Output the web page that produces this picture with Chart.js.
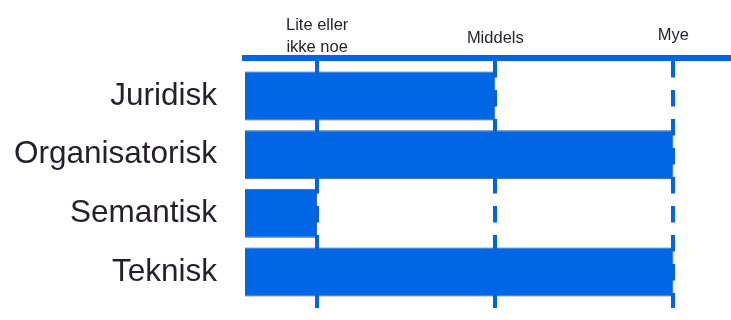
<!DOCTYPE html>
<html>
<head>
<meta charset="utf-8">
<script src="https://cdn.jsdelivr.net/npm/chart.js@4/dist/chart.umd.min.js"></script>
<style>
  html, body { margin: 0; padding: 0; background: #ffffff; }
  canvas { display: block; }
</style>
</head>
<body>
<canvas id="chart" width="731" height="320"></canvas>
<script>
// Interoperability dimensions and how much each one matters
const categories = ['Juridisk', 'Organisatorisk', 'Semantisk', 'Teknisk'];
const levels = [2, 3, 1, 3];

// Scale steps shown along the top axis
const levelTicks = [1, 2, 3];
const levelLabels = [['Lite eller', 'ikke noe'], 'Middels', 'Mye'];

const BLUE = '#0066e3';
const EDGE = '#1f55a8';
const INK = '#231f2b';
const FAMILY = '"Liberation Sans", Arial, Helvetica, sans-serif';

// vertical placement of each top label (line box height)
const topLabelLineHeights = ['22px', '40px', '46px'];

new Chart(document.getElementById('chart'), {
  type: 'bar',
  data: {
    datasets: [{
      data: levels.map((v, i) => ({ x: v, y: i })),
      backgroundColor: BLUE,
      borderColor: EDGE,
      borderWidth: 1,
      borderSkipped: false,
      barPercentage: 0.835,
      categoryPercentage: 1
    }]
  },
  options: {
    indexAxis: 'y',
    responsive: false,
    animation: false,
    events: [],
    layout: { padding: { top: 0, right: 0, bottom: 12, left: 0 } },
    plugins: {
      legend: { display: false },
      tooltip: { enabled: false }
    },
    scales: {
      x: {
        type: 'linear',
        position: 'top',
        min: 0.595,
        max: 3.323,
        afterBuildTicks: s => { s.ticks = levelTicks.map(v => ({ value: v })); },
        afterFit: s => { s.height = 58; s.paddingLeft = 0; s.paddingRight = 0; },
        ticks: {
          padding: 0,
          color: INK,
          maxRotation: 0,
          autoSkip: false,
          callback: v => levelLabels[levelTicks.indexOf(v)],
          font: ctx => ({
            family: FAMILY,
            size: 16.5,
            lineHeight: topLabelLineHeights[ctx.index] || '22px'
          })
        },
        grid: {
          color: BLUE,
          lineWidth: 4,
          drawTicks: false
        },
        border: {
          display: true,
          color: BLUE,
          width: 6,
          dash: [16.4, 12.6]
        }
      },
      y: {
        type: 'linear',
        reverse: true,
        offset: false,
        min: -0.648,
        max: 3.613,
        afterBuildTicks: s => { s.ticks = categories.map((c, i) => ({ value: i })); },
        afterFit: s => { s.width = 245; s.paddingTop = 0; s.paddingBottom = 0; },
        ticks: {
          padding: 28,
          color: INK,
          autoSkip: false,
          callback: v => categories[v],
          font: { family: FAMILY, size: 31.5 }
        },
        grid: { display: false, drawTicks: false },
        border: { display: false }
      }
    }
  }
});
</script>
</body>
</html>
